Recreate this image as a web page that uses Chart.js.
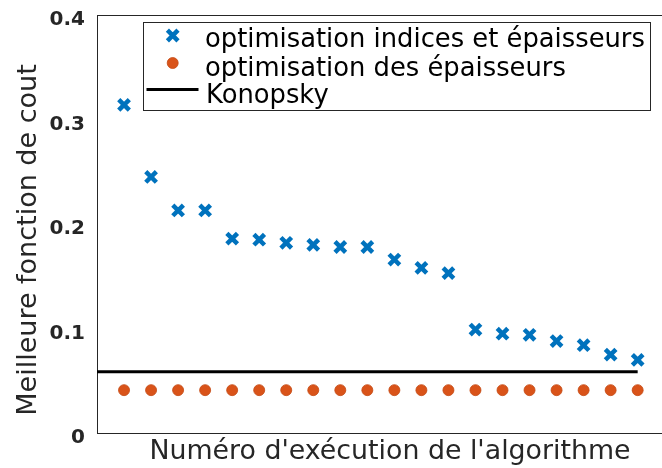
<!DOCTYPE html>
<html>
<head>
<meta charset="utf-8">
<script src="https://cdn.jsdelivr.net/npm/chart.js@4/dist/chart.umd.min.js"></script>
<style>
  html, body { margin: 0; padding: 0; background: #ffffff; }
  #wrap { width: 662px; height: 468px; position: relative; }
</style>
</head>
<body>
<div id="wrap"><canvas id="c" width="662" height="468"></canvas></div>
<script>
// Run numbers of the algorithm (x positions)
const runs = [1, 2, 3, 4, 5, 6, 7, 8, 9, 10, 11, 12, 13, 14, 15, 16, 17, 18, 19, 20];

// Best cost reached when optimising indices and thicknesses, sorted per run
const indicesEtEpaisseurs = [0.314, 0.245, 0.213, 0.213, 0.186, 0.185, 0.182, 0.180, 0.178, 0.178,
                             0.166, 0.158, 0.153, 0.099, 0.095, 0.094, 0.088, 0.084, 0.075, 0.070];

// Best cost reached when optimising thicknesses only
const epaisseursSeules = [0.041, 0.041, 0.041, 0.041, 0.041, 0.041, 0.041, 0.041, 0.041, 0.041,
                          0.041, 0.041, 0.041, 0.041, 0.041, 0.041, 0.041, 0.041, 0.041, 0.041];

// Reference cost (Konopsky), drawn as a horizontal segment
const konopskyRuns = [0, 20];
const konopskyValues = [0.0587, 0.0587];

// Y axis ticks
const yTicks = [0, 0.1, 0.2, 0.3, 0.4];
const yTickLabels = ['0', '0.1', '0.2', '0.3', '0.4'];

// Texts
const seriesLabels = ['optimisation indices et épaisseurs', 'optimisation des épaisseurs', 'Konopsky'];
const xTitle = "Numéro d'exécution de l'algorithme";
const yTitle = 'Meilleure fonction de cout';

const BLUE = '#0072BD';
const ORANGE = '#D95319';
const AXIS = '#262626';
const FONT = '"DejaVu Sans", "Liberation Sans", sans-serif';

const crossStyle = { pointStyle: 'crossRot', radius: 7.5, borderWidth: 4.5, rotation: 0 };
const dotStyle = { pointStyle: 'circle', radius: 5.5, borderWidth: 0.8, rotation: 0 };

// Fixed scale box sizes, without the extra room Chart.js reserves for overflowing labels
function fixBox(size) {
  return function (scale) {
    if (scale.isHorizontal()) { scale.height = size; } else { scale.width = size; }
    scale.paddingTop = 0;
    scale.paddingBottom = 0;
    scale.paddingLeft = 0;
    scale.paddingRight = 0;
  };
}

// Axis titles and the boxed legend in the upper part of the plot
const annotations = {
  id: 'annotations',
  afterDraw(chart) {
    const ctx = chart.ctx;
    ctx.save();

    // y title, rotated
    ctx.save();
    ctx.translate(36, 240);
    ctx.rotate(-Math.PI / 2);
    ctx.font = '27px ' + FONT;
    ctx.fillStyle = AXIS;
    ctx.textAlign = 'center';
    ctx.textBaseline = 'alphabetic';
    ctx.fillText(yTitle, 0, 0);
    ctx.restore();

    // x title
    ctx.font = '26.8px ' + FONT;
    ctx.fillStyle = AXIS;
    ctx.textAlign = 'center';
    ctx.textBaseline = 'alphabetic';
    ctx.fillText(xTitle, 390, 458.5);

    // legend box
    ctx.fillStyle = '#ffffff';
    ctx.fillRect(143.5, 22.5, 507, 88);
    ctx.strokeStyle = AXIS;
    ctx.lineWidth = 1;
    ctx.strokeRect(143.5, 22.5, 507, 88);

    // legend markers
    ctx.strokeStyle = BLUE;
    ctx.fillStyle = BLUE;
    ctx.lineWidth = crossStyle.borderWidth;
    Chart.helpers.drawPoint(ctx, crossStyle, 172.7, 35.5);

    ctx.strokeStyle = '#C44A14';
    ctx.fillStyle = ORANGE;
    ctx.lineWidth = dotStyle.borderWidth;
    Chart.helpers.drawPoint(ctx, dotStyle, 172.7, 63);

    ctx.strokeStyle = '#000000';
    ctx.lineWidth = 3;
    ctx.beginPath();
    ctx.moveTo(146.5, 89.5);
    ctx.lineTo(198.5, 89.5);
    ctx.stroke();

    // legend texts
    ctx.font = '25.8px ' + FONT;
    ctx.fillStyle = '#000000';
    ctx.textAlign = 'left';
    ctx.textBaseline = 'alphabetic';
    ctx.fillText(seriesLabels[0], 205, 46.7);
    ctx.fillText(seriesLabels[1], 205, 75.5);
    ctx.fillText(seriesLabels[2], 206, 103);

    ctx.restore();
  }
};

new Chart(document.getElementById('c'), {
  type: 'scatter',
  data: {
    datasets: [
      {
        label: seriesLabels[0],
        data: runs.map((r, i) => ({ x: r, y: indicesEtEpaisseurs[i] })),
        pointStyle: crossStyle.pointStyle,
        pointRadius: crossStyle.radius,
        pointBorderWidth: crossStyle.borderWidth,
        borderColor: BLUE,
        backgroundColor: BLUE,
        showLine: false
      },
      {
        label: seriesLabels[1],
        data: runs.map((r, i) => ({ x: r, y: epaisseursSeules[i] })),
        pointStyle: dotStyle.pointStyle,
        pointRadius: dotStyle.radius,
        pointBorderWidth: dotStyle.borderWidth,
        borderColor: '#C44A14',
        backgroundColor: ORANGE,
        showLine: false
      },
      {
        label: seriesLabels[2],
        type: 'line',
        data: konopskyRuns.map((r, i) => ({ x: r, y: konopskyValues[i] })),
        borderColor: '#000000',
        borderWidth: 3,
        pointRadius: 0,
        fill: false,
        showLine: true
      }
    ]
  },
  options: {
    responsive: false,
    animation: false,
    devicePixelRatio: 1,
    layout: { padding: 0, autoPadding: false },
    plugins: {
      legend: { display: false },
      tooltip: { enabled: false }
    },
    scales: {
      x: {
        type: 'linear',
        position: 'bottom',
        min: 0,
        max: 20.9,
        ticks: { display: false },
        grid: { display: false, drawTicks: false },
        border: { display: true, color: AXIS, width: 1 },
        afterFit: fixBox(35)
      },
      xTop: {
        type: 'linear',
        position: 'top',
        min: 0,
        max: 20.9,
        ticks: { display: false },
        grid: { display: false, drawTicks: false },
        border: { display: true, color: AXIS, width: 1 },
        afterFit: fixBox(15)
      },
      y: {
        type: 'linear',
        min: 0,
        max: 0.4,
        afterBuildTicks(scale) { scale.ticks = yTicks.map(v => ({ value: v })); },
        ticks: {
          callback: (v, i) => yTickLabels[i],
          font: { family: FONT, size: 20, weight: 'bold' },
          color: AXIS,
          padding: 12,
          labelOffset: 5
        },
        grid: { display: false, drawTicks: false },
        border: { display: true, color: AXIS, width: 1 },
        afterFit: fixBox(97)
      }
    }
  },
  plugins: [annotations]
});
</script>
</body>
</html>
